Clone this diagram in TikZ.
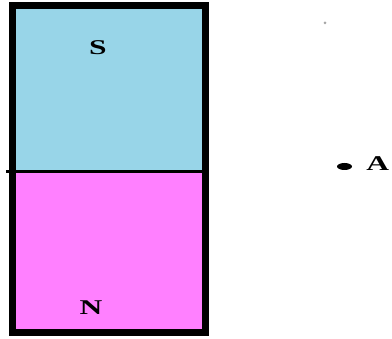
\documentclass[tikz,border=0pt]{standalone}
\usepackage{fontspec}
\setmainfont{Liberation Serif}
\usepackage{tikz}
\usetikzlibrary{positioning,shapes.geometric}
\definecolor{southblue}{HTML}{98D5E8}
\definecolor{northpink}{HTML}{FF80FF}

\begin{document}
\begin{tikzpicture}[
    x=1pt, y=-1pt,
    pole/.style={font=\bfseries\fontsize{21}{21}\selectfont, xscale=1.5, inner sep=0pt},
    edge/.style={line width=7pt},
    point/.style={ellipse, fill=black, minimum width=15pt, minimum height=7pt, inner sep=0pt}
]
\useasboundingbox (0,0) rectangle (392,339);

% Magnet halves
\fill[southblue] (12.5,5.5) rectangle (205,171.5);
\fill[northpink] (12.5,171.5) rectangle (205,333);
\draw[line width=3pt] (6,171.5) -- (205,171.5);
\draw[edge] (12.5,5.5) rectangle (205,333);

% Pole labels
\node[pole] (south) at (98,48) {S};
\node[pole] (north) at (91,308) {N};

% Point A
\node[point] (dot) at (344.5,166.5) {};
\node[pole, anchor=west] (labelA) at (366,164) {A};

% Speck
\fill[gray!70] (325,23) circle (1.5pt);

\end{tikzpicture}
\end{document}
